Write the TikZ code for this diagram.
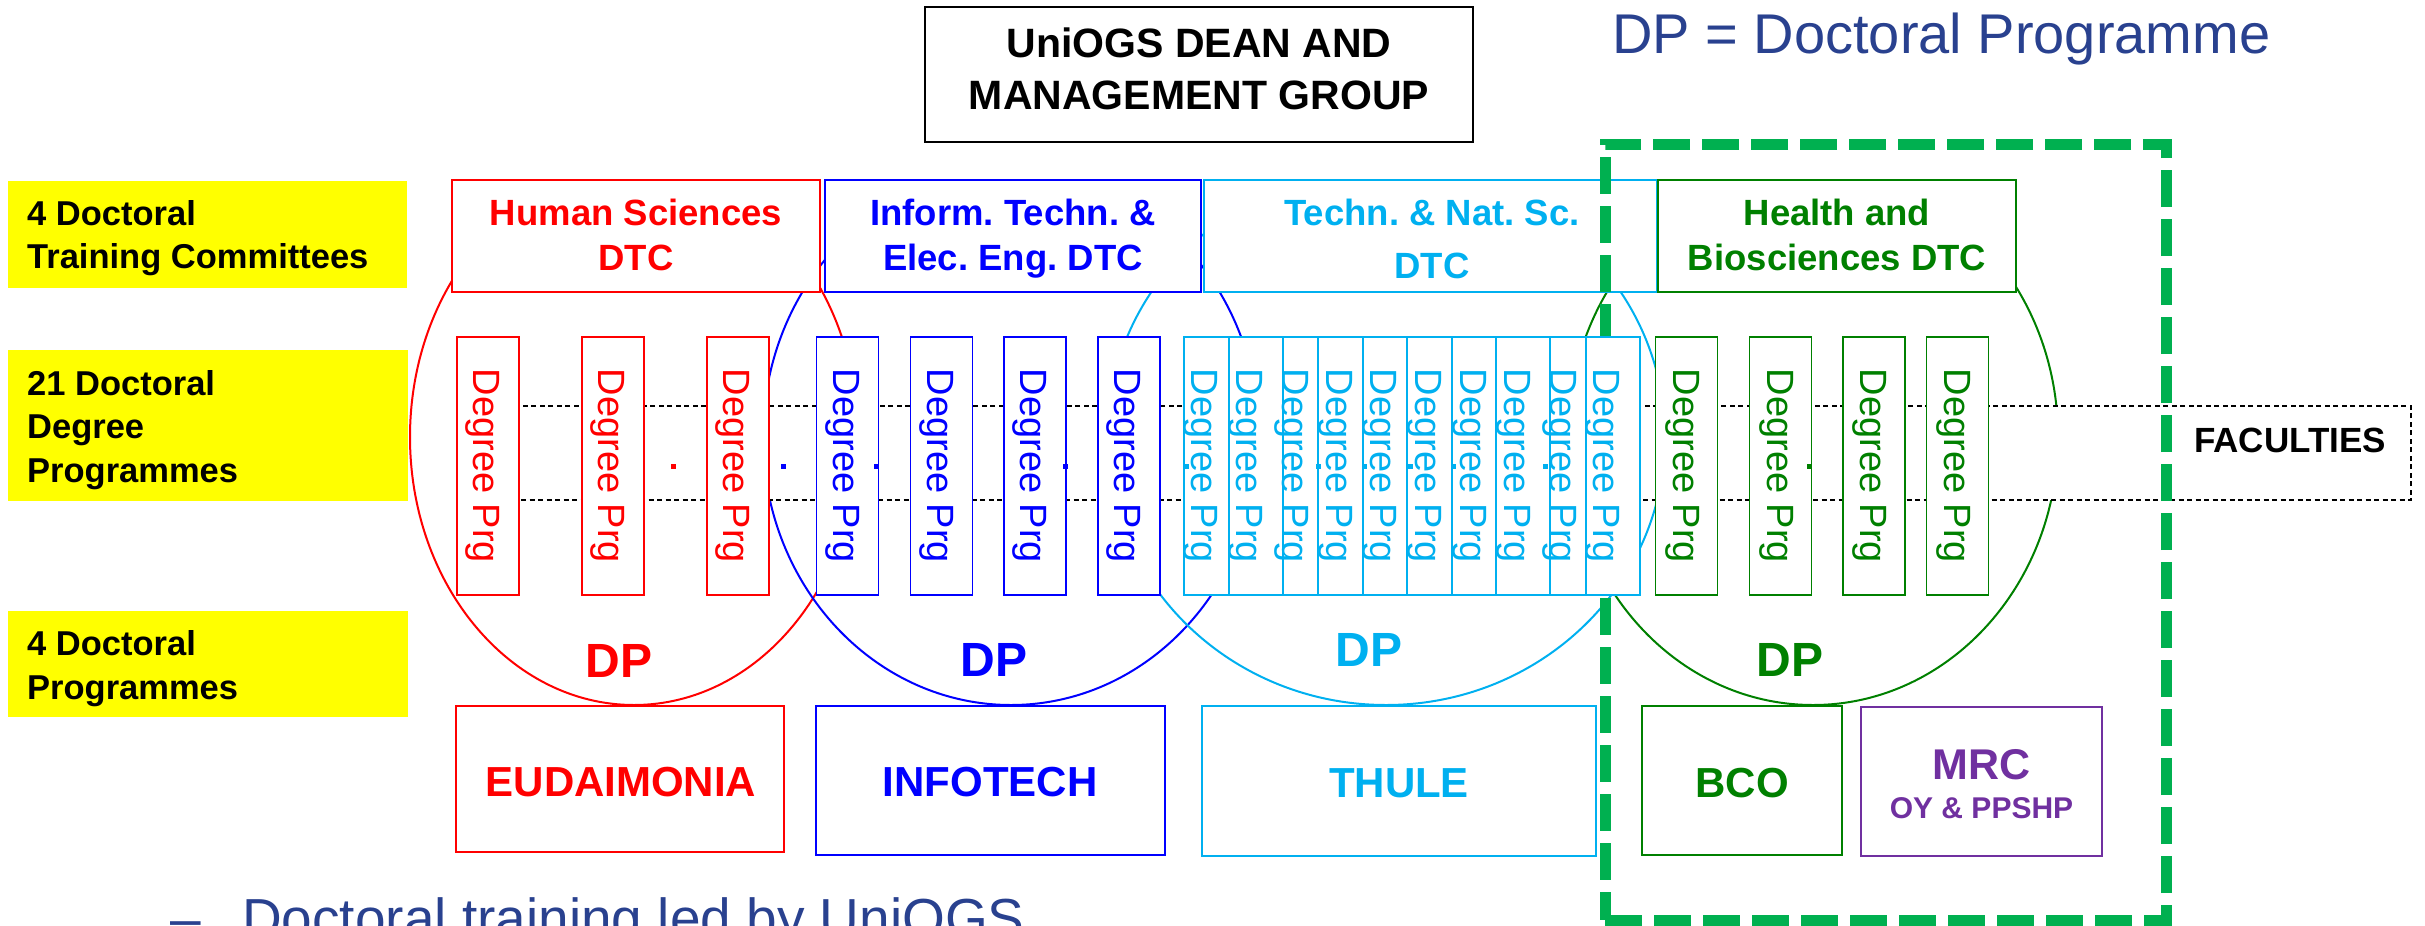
\documentclass[tikz,border=0pt]{standalone}
\usepackage{fontspec}
\setmainfont{Liberation Sans}
\usetikzlibrary{shapes.geometric}
\frenchspacing
\definecolor{cRed}{RGB}{255,0,0}
\definecolor{cBlue}{RGB}{0,0,255}
\definecolor{cCyan}{RGB}{0,176,240}
\definecolor{cGreen}{RGB}{0,128,0}
\definecolor{cFrame}{RGB}{0,176,80}
\definecolor{cPurple}{RGB}{112,48,160}
\definecolor{cNavy}{RGB}{41,65,143}
\definecolor{cYellow}{RGB}{255,255,0}
\newcommand{\fsz}[1]{\fontsize{#1}{#1}\selectfont}
\tikzset{
  boxbase/.style={draw, fill=white, inner sep=0pt, outer sep=0pt},
  dtcbox/.style={boxbase, line width=2.3pt, minimum height=112pt},
  degbox/.style={boxbase, line width=1.3pt, minimum height=258pt},
  botbox/.style={boxbase, line width=2.3pt},
  degtxt/.style={rotate=-90, inner sep=0pt, font=\fsz{38}},
  labtxt/.style={anchor=base, inner sep=0pt, font=\bfseries\fsz{36.5}},
  sidetxt/.style={anchor=base west, inner sep=0pt, font=\bfseries\fsz{34.5}},
  yelbox/.style={fill=cYellow, inner sep=0pt, outer sep=0pt, minimum width=400pt},
  dptxt/.style={anchor=base, inner sep=0pt, font=\bfseries\fsz{48}},
  bottxt/.style={anchor=base, inner sep=0pt, font=\bfseries\fsz{42}},
  dotsq/.style={minimum size=5pt, inner sep=0pt, outer sep=0pt, fill},
  dpellipse/.style={ellipse, draw, line width=2pt, inner sep=0pt, minimum height=536pt}
}
\begin{document}
\begin{tikzpicture}[x=1pt,y=-1pt]
\useasboundingbox (0,0) rectangle (2425,926);
\clip (0,0) rectangle (2425,926);

% ellipses (doctoral programmes)
\begin{scope}
\clip (0,181) rectangle (2425,926);
\node[dpellipse, draw=cRed, minimum width=448pt] (eR) at (634,437) {};
\node[dpellipse, draw=cBlue, minimum width=496pt] (eB) at (1011,437) {};
\node[dpellipse, draw=cCyan, minimum width=558pt] (eC) at (1386,437) {};
\node[dpellipse, draw=cGreen, minimum width=490pt] (eG) at (1813,437) {};
\end{scope}

% faculties band
\node[draw=black, fill=white, line width=1.6pt, dash pattern=on 5pt off 3.5pt,
      inner sep=0pt, minimum width=1941pt, minimum height=94pt] (fac) at (1440.5,453) {};
\node[anchor=base, inner sep=0pt, font=\bfseries\fsz{35}] (factxt) at (2290,452) {FACULTIES};

% DTC boxes
\node[dtcbox, draw=cRed, minimum width=368pt] (hs) at (636,236) {};
\node[labtxt, text=cRed] (hs1) at (636,225) {Human Sciences};
\node[labtxt, text=cRed] (hs2) at (636,270) {DTC};
\node[dtcbox, draw=cBlue, minimum width=376pt] (it) at (1013,236) {};
\node[labtxt, text=cBlue] (it1) at (1013,225) {Inform. Techn. \&};
\node[labtxt, text=cBlue] (it2) at (1013,270) {Elec. Eng. DTC};
\node[dtcbox, draw=cCyan, minimum width=453pt] (tn) at (1430.5,236) {};
\node[labtxt, text=cCyan] (tn1) at (1432,225) {Techn. \& Nat. Sc.};
\node[labtxt, text=cCyan] (tn2) at (1432,278) {DTC};
\node[dtcbox, draw=cGreen, line width=2pt, minimum width=358pt] (hb) at (1837,236) {};
\node[labtxt, text=cGreen] (hb1) at (1837,225) {Health and};
\node[labtxt, text=cGreen] (hb2) at (1837,270) {Biosciences DTC};

% green dashed frame
\node[draw=cFrame, line width=11pt, dash pattern=on 37pt off 12pt, inner sep=0pt,
      minimum width=561pt, minimum height=776pt] (frame) at (1885.5,532) {};

% degree programme boxes
\foreach \c [count=\i] in {488,613,738} {
  \node[degbox, draw=cRed, minimum width=62pt] (r\i) at (\c,466) {};
  \node[degtxt, text=cRed] (rt\i) at (\c-5,466) {Degree Prg};
}
\foreach \c [count=\i] in {847.5,941.5,1035,1129} {
  \node[degbox, draw=cBlue, minimum width=62pt] (b\i) at (\c,466) {};
  \node[degtxt, text=cBlue] (bt\i) at (\c-5,466) {Degree Prg};
}
\foreach \l/\t [count=\i] in {1184/1201,1229/1246,1283/1292,1318/1336,1363/1380,1407/1425,1452/1470,1496/1514,1550/1560,1586/1603} {
  \node[degbox, draw=cCyan, minimum width=54pt] (c\i) at (\l+27,466) {};
  \node[degtxt, text=cCyan] (ct\i) at (\t,466) {Degree Prg};
}
\foreach \c [count=\i] in {1686.5,1780.5,1874,1957.5} {
  \node[degbox, draw=cGreen, minimum width=62pt] (g\i) at (\c,466) {};
  \node[degtxt, text=cGreen] (gt\i) at (\c-4,466) {Degree Prg};
}

% dots
\node[dotsq, cRed] (d1) at (673,466) {};
\foreach \x [count=\i] in {783,876,1065} { \node[dotsq, cBlue] (db\i) at (\x,466) {}; }
\foreach \x [count=\i] in {1186,1318,1364,1410,1453,1545} { \node[dotsq, cCyan] (dc\i) at (\x,466) {}; }
\node[dotsq, cGreen] (dg1) at (1809,466) {};

% DP labels
\node[dptxt, text=cRed] (dpR) at (619,677) {DP};
\node[dptxt, text=cBlue] (dpB) at (994,676) {DP};
\node[dptxt, text=cCyan] (dpC) at (1369,666) {DP};
\node[dptxt, text=cGreen] (dpG) at (1790,676) {DP};

% doctoral programme boxes
\node[botbox, draw=cRed, minimum width=328pt, minimum height=146pt] (eud) at (620,779) {};
\node[bottxt, text=cRed] (eudt) at (621,796) {EUDAIMONIA};
\node[botbox, draw=cBlue, minimum width=349pt, minimum height=149pt] (inf) at (990.5,780.5) {};
\node[bottxt, text=cBlue] (inft) at (990,796) {INFOTECH};
\node[botbox, draw=cCyan, minimum width=394pt, minimum height=150pt] (thu) at (1399,781) {};
\node[bottxt, text=cCyan] (thut) at (1399,797) {THULE};
\node[botbox, draw=cGreen, minimum width=200pt, minimum height=149pt] (bco) at (1742,780.5) {};
\node[bottxt, text=cGreen] (bcot) at (1742,797) {BCO};
\node[botbox, draw=cPurple, minimum width=241pt, minimum height=149pt] (mrc) at (1981.5,781.5) {};
\node[anchor=base, inner sep=0pt, font=\bfseries\fsz{43}, text=cPurple] (mrct) at (1981.5,779) {MRC};
\node[anchor=base, inner sep=0pt, font=\bfseries\fsz{30}, text=cPurple] (mrcs) at (1981.5,818) {OY \& PPSHP};

% side labels
\node[yelbox, minimum width=399pt, minimum height=107pt] (y1) at (207.5,234.5) {};
\node[sidetxt] (y1a) at (27,225) {4 Doctoral};
\node[sidetxt] (y1b) at (27,268) {Training Committees};
\node[yelbox, minimum height=151pt] (y2) at (208,425.5) {};
\node[sidetxt] (y2a) at (27,395) {21 Doctoral};
\node[sidetxt] (y2b) at (27,438) {Degree};
\node[sidetxt] (y2c) at (27,482) {Programmes};
\node[yelbox, minimum height=106pt] (y3) at (208,664) {};
\node[sidetxt] (y3a) at (27,655) {4 Doctoral};
\node[sidetxt] (y3b) at (27,699) {Programmes};

% dean box
\node[draw=black, line width=2.5pt, inner sep=0pt, minimum width=548pt, minimum height=135pt] (dean) at (1199,74.5) {};
\node[anchor=base, inner sep=0pt, font=\bfseries\fsz{41}] (dean1) at (1199,57) {UniOGS DEAN AND};
\node[anchor=base, inner sep=0pt, font=\bfseries\fsz{41}] (dean2) at (1199,109) {MANAGEMENT GROUP};

% legend and bottom line
\node[anchor=base west, inner sep=0pt, font=\fsz{56}, text=cNavy] (legend) at (1612,53) {DP = Doctoral Programme};
\node[anchor=base west, inner sep=0pt, font=\fsz{55}, text=cNavy] (bdash) at (170,937) {–};
\node[anchor=base west, inner sep=0pt, font=\fsz{55}, text=cNavy] (btext) at (242,937) {Doctoral training led by UniOGS};
\end{tikzpicture}
\end{document}
